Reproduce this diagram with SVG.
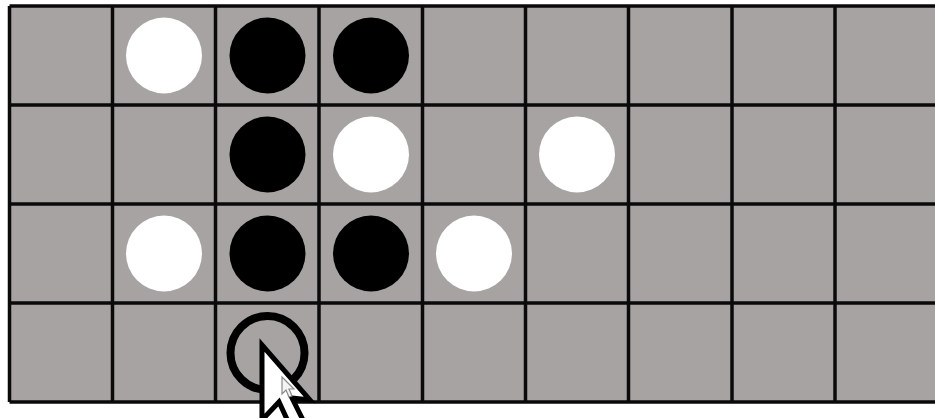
<svg xmlns="http://www.w3.org/2000/svg" width="935" height="418" viewBox="0 0 935 418">
<style>
.grid line{stroke:#0a0a0a;stroke-width:3.5}
.w{fill:#ffffff}
.b{fill:#000000}
.ring{fill:none;stroke:#000;stroke-width:8}
</style>
<rect width="935" height="418" fill="#ffffff"/>
<rect x="9.5" y="6" width="926" height="396" fill="#a7a3a2"/>
<g class="grid" id="grid">
<line x1="9.5" y1="6" x2="935" y2="6"/>
<line x1="9.5" y1="105" x2="935" y2="105"/>
<line x1="9.5" y1="204" x2="935" y2="204"/>
<line x1="9.5" y1="303" x2="935" y2="303"/>
<line x1="9.5" y1="402" x2="935" y2="402"/>
<line x1="9.5" y1="6" x2="9.5" y2="402"/>
<line x1="112.5" y1="6" x2="112.5" y2="402"/>
<line x1="215.5" y1="6" x2="215.5" y2="402"/>
<line x1="319" y1="6" x2="319" y2="402"/>
<line x1="422.5" y1="6" x2="422.5" y2="402"/>
<line x1="525.5" y1="6" x2="525.5" y2="402"/>
<line x1="628.5" y1="6" x2="628.5" y2="402"/>
<line x1="732" y1="6" x2="732" y2="402"/>
<line x1="835" y1="6" x2="835" y2="402"/>
</g>
<g id="pieces">
<circle class="w" cx="164" cy="55.5" r="38"/>
<circle class="b" cx="267.5" cy="55.5" r="38"/>
<circle class="b" cx="371" cy="55.5" r="38"/>
<circle class="b" cx="267.5" cy="154.5" r="38"/>
<circle class="w" cx="371" cy="154.5" r="38"/>
<circle class="w" cx="577" cy="154.5" r="38"/>
<circle class="w" cx="164" cy="253.5" r="38"/>
<circle class="b" cx="267.5" cy="253.5" r="38"/>
<circle class="b" cx="371" cy="253.5" r="38"/>
<circle class="w" cx="474" cy="253.5" r="38"/>
<circle class="ring" cx="267.5" cy="353" r="37"/>
</g>
<g id="cursor">
<path d="M262 345 L262 420 L279 402 L292 430 L305 424 L292 398 L310 400 Z" fill="#ffffff" stroke="#000" stroke-width="5" stroke-linejoin="miter"/>
<path d="M282 377 L282 394 L286 390 L289 397 L292 396 L289 389 L294 389 Z" fill="#f4f4f4" stroke="#8a8a8a" stroke-width="1.2"/>
</g>
</svg>
